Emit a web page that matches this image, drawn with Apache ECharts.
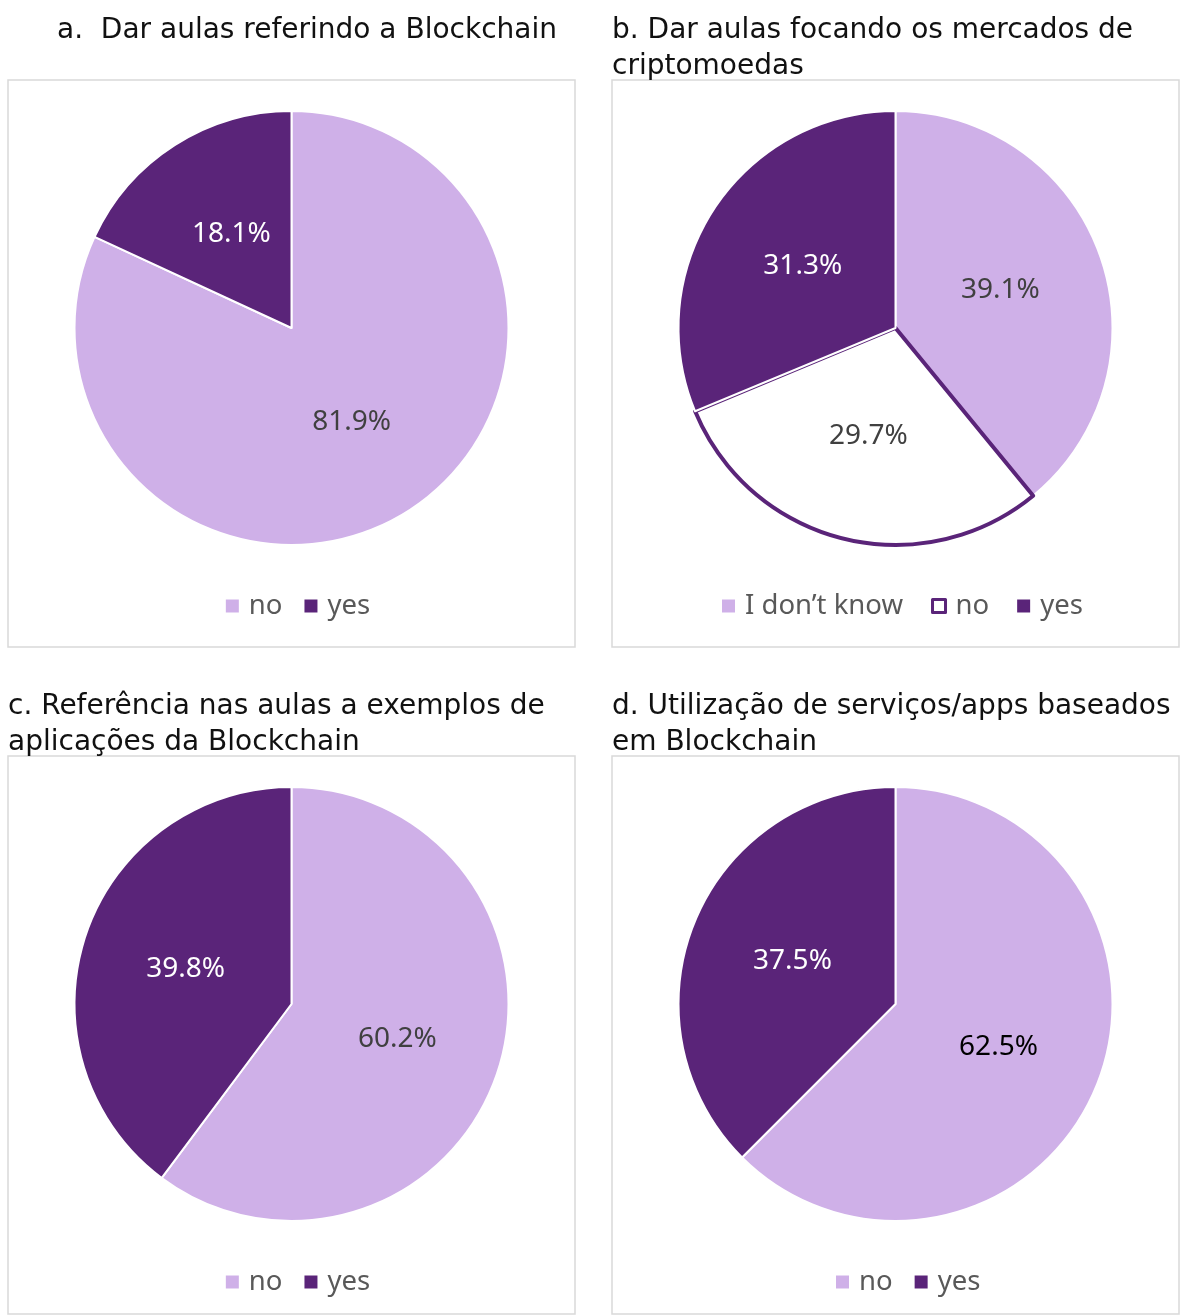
<!DOCTYPE html>
<html>
<head>
<meta charset="utf-8">
<script src="https://cdn.jsdelivr.net/npm/echarts@6/dist/echarts.min.js"></script>
<style>
html,body{margin:0;padding:0;background:#fff;}
body{width:1192px;height:1315px;position:relative;overflow:hidden;}
.p{position:absolute;}
</style>
</head>
<body>
<div id="ca" class="p" style="left:0;top:0;width:596px;height:676px"></div>
<div id="cb" class="p" style="left:604px;top:0;width:588px;height:676px"></div>
<div id="cc" class="p" style="left:0;top:676px;width:596px;height:639px"></div>
<div id="cd" class="p" style="left:604px;top:676px;width:588px;height:639px"></div>
<script>
// ---- data ----
const titleA = 'a.  Dar aulas referindo a Blockchain';
const titleB = 'b. Dar aulas focando os mercados de\ncriptomoedas';
const titleC = 'c. Referência nas aulas a exemplos de\naplicações da Blockchain';
const titleD = 'd. Utilização de serviços/apps baseados\nem Blockchain';

const categoriesA = ['no', 'yes'];
const valuesA = [81.9, 18.1];
const categoriesB = ['I don’t know', 'no', 'yes'];
const valuesB = [39.1, 29.7, 31.3];
const categoriesC = ['no', 'yes'];
const valuesC = [60.2, 39.8];
const categoriesD = ['no', 'yes'];
const valuesD = [62.5, 37.5];

// ---- styles ----
const LIGHT = '#CFB0E8';
const DARK = '#5A2479';
const FONT_T = '"DejaVu Sans", sans-serif';
const FONT_L = '"Noto Sans", "Open Sans", sans-serif';

function sliceStyle(kind) {
  if (kind === 'light') return { itemStyle: { color: LIGHT, borderColor: '#fff', borderWidth: 2 }, label: { color: '#404040' } };
  if (kind === 'dark') return { itemStyle: { color: DARK, borderColor: '#fff', borderWidth: 2 }, label: { color: '#fff' } };
  return { itemStyle: { color: '#fff', borderColor: DARK, borderWidth: 4 }, label: { color: '#404040' } };
}

function legendIcon(kind) {
  if (kind === 'hollow') return { itemStyle: { color: '#fff', borderColor: DARK, borderWidth: 3 } };
  return { itemStyle: { color: kind === 'light' ? LIGHT : DARK, borderWidth: 0 } };
}

function makeOption(title, titleX, cats, vals, kinds, boxH, legendLeft, legendGap, firstLabelColor) {
  const data = cats.map((c, i) => {
    const s = sliceStyle(kinds[i]);
    return Object.assign({ name: c, value: vals[i] }, s);
  });
  if (firstLabelColor) data[0].label = { color: firstLabelColor };
  return {
    animation: false,
    graphic: [
      { type: 'rect', shape: { x: 8, y: 80, width: 567, height: boxH }, style: { fill: '#fff', stroke: '#D9D9D9', lineWidth: 1.5 }, z: -10 },
      { type: 'text', left: titleX, top: 13, style: { text: title, font: '28px ' + FONT_T, fill: '#111', lineHeight: 36 } }
    ],
    legend: {
      left: legendLeft,
      top: 585,
      icon: 'rect',
      itemWidth: 13,
      itemHeight: 13,
      itemGap: legendGap,
      selectedMode: false,
      textStyle: { fontFamily: FONT_L, fontSize: 27.5, color: '#595959', lineHeight: 32, padding: [0, 0, 0, 5] },
      data: cats.map((c, i) => Object.assign({ name: c }, legendIcon(kinds[i]),
        kinds[i] === 'hollow' ? { itemWidth: 16 } : {}))
    },
    series: [{
      type: 'pie',
      center: [291.5, 328],
      radius: [0, 217],
      startAngle: 90,
      clockwise: true,
      label: {
        show: true,
        position: 'inside',
        fontFamily: FONT_L,
        fontSize: 28,
        formatter: p => p.value.toFixed(1) + '%'
      },
      labelLine: { show: false },
      emphasis: { disabled: true },
      data: data
    }]
  };
}

const charts = [
  ['ca', makeOption(titleA, 57, categoriesA, valuesA, ['light', 'dark'], 567, 'center', 22)],
  ['cb', makeOption(titleB, 8, categoriesB, valuesB, ['light', 'hollow', 'dark'], 567, 113, 28)],
  ['cc', makeOption(titleC, 8, categoriesC, valuesC, ['light', 'dark'], 558, 'center', 22)],
  ['cd', makeOption(titleD, 8, categoriesD, valuesD, ['light', 'dark'], 558, 227, 22, '#000')]
];
charts.forEach(([id, opt]) => {
  const c = echarts.init(document.getElementById(id), null, { renderer: 'canvas' });
  c.setOption(opt);
});
</script>
</body>
</html>
